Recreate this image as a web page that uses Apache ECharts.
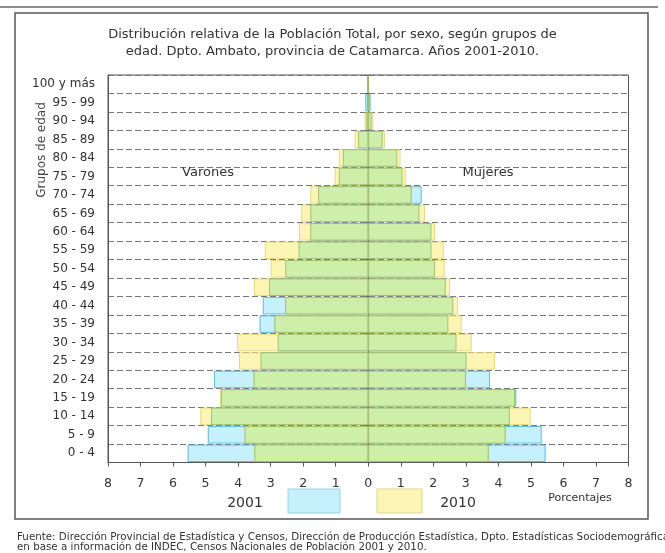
<!DOCTYPE html>
<html>
<head>
<meta charset="utf-8">
<script src="https://cdn.jsdelivr.net/npm/echarts@6/dist/echarts.min.js"></script>
<style>
html,body{margin:0;padding:0;background:#fff;}
#chart{width:665px;height:553px;}
</style>
</head>
<body>
<div id="chart"></div>
<script>
// Age groups, bottom to top
var categories = ['0 - 4','5 - 9','10 - 14','15 - 19','20 - 24','25 - 29','30 - 34','35 - 39','40 - 44','45 - 49','50 - 54','55 - 59','60 - 64','65 - 69','70 - 74','75 - 79','80 - 84','85 - 89','90 - 94','95 - 99','100 y más'];
// Percent of total population
var varones2001 = [5.55, 4.93, 4.83, 4.52, 4.74, 3.31, 2.78, 3.34, 3.24, 3.05, 2.55, 2.14, 1.78, 1.78, 1.54, 0.90, 0.78, 0.31, 0.06, 0.09, 0.01];
var varones2010 = [3.50, 3.80, 5.16, 4.55, 3.52, 3.97, 4.03, 2.88, 2.55, 3.51, 3.00, 3.18, 2.13, 2.06, 1.78, 1.03, 0.90, 0.42, 0.11, 0.03, 0.01];
var mujeres2001 = [5.45, 5.33, 4.35, 4.55, 3.74, 3.02, 2.71, 2.46, 2.61, 2.38, 2.05, 1.94, 1.94, 1.57, 1.64, 1.05, 0.89, 0.44, 0.10, 0.07, 0.01];
var mujeres2010 = [3.70, 4.22, 4.99, 4.51, 3.00, 3.89, 3.18, 2.87, 2.76, 2.51, 2.35, 2.32, 2.05, 1.74, 1.33, 1.15, 0.99, 0.51, 0.15, 0.04, 0.01];
var xTicks = [-8, -7, -6, -5, -4, -3, -2, -1, 0, 1, 2, 3, 4, 5, 6, 7, 8];

var BLUE = '#c6f1fc', YELLOW = '#fcf5b3', GREEN = '#cdefa9';
var FONT = 'DejaVu Sans';

function neg(a){ return a.map(function(v){ return -v; }); }
function minOf(a, b){ return a.map(function(v, i){ return Math.min(v, b[i]); }); }

function bar(name, data, color, border){
  return {
    name: name, type: 'bar', data: data,
    barGap: '-100%', barCategoryGap: '6%',
    itemStyle: { color: color, borderColor: border, borderWidth: 0.8 },
    silent: true, animation: false
  };
}

var chart = echarts.init(document.getElementById('chart'), null, {renderer: 'canvas'});
chart.setOption({
  animation: false,
  backgroundColor: '#fff',
  textStyle: { fontFamily: FONT },
  title: {
    text: 'Distribución relativa de la Población Total, por sexo, según grupos de\nedad. Dpto. Ambato, provincia de Catamarca. Años 2001-2010.',
    left: 'center', top: 21,
    textStyle: { fontFamily: FONT, fontSize: 13, fontWeight: 'normal', color: '#333', lineHeight: 17, align: 'center' }
  },
  grid: { left: 108, right: 36.5, top: 75, bottom: 90.5, show: true, borderColor: '#555', borderWidth: 1 },
  xAxis: {
    type: 'value', min: xTicks[0], max: xTicks[xTicks.length - 1], interval: 1,
    axisLine: { show: true, onZero: false, lineStyle: { color: '#555' } },
    axisTick: { show: true, length: 4, lineStyle: { color: '#555' } },
    splitLine: { show: false },
    axisLabel: { margin: 15, fontFamily: FONT, fontSize: 12.5, color: '#333', formatter: function(v){ return Math.abs(v); } }
  },
  yAxis: [{
    type: 'category', data: categories,
    axisLine: { show: true, onZero: false, lineStyle: { color: '#555' } },
    axisTick: { show: false },
    axisLabel: { margin: 13, fontFamily: FONT, fontSize: 12, color: '#333', interval: 0 },
    splitLine: { show: true, interval: 0, lineStyle: { color: '#777', type: [6, 3], width: 1 } }
  }, {
    type: 'category', data: categories, position: 'left', offset: -260.5,
    axisLine: { show: true, onZero: false, lineStyle: { color: '#555' } },
    axisTick: { show: true, length: 3, interval: 0, lineStyle: { color: '#555' } },
    axisLabel: { show: false },
    splitLine: { show: false }
  }],
  series: [
    bar('Varones 2001', neg(varones2001), BLUE, '#4aa6d6'),
    bar('Varones 2010', neg(varones2010), YELLOW, '#e3cf74'),
    bar('Varones común', neg(minOf(varones2001, varones2010)), GREEN, '#93b56a'),
    bar('Mujeres 2001', mujeres2001, BLUE, '#4aa6d6'),
    bar('Mujeres 2010', mujeres2010, YELLOW, '#e3cf74'),
    bar('Mujeres común', minOf(mujeres2001, mujeres2010), GREEN, '#93b56a')
  ],
  graphic: [
    { type: 'line', shape: { x1: 0, y1: 7, x2: 658, y2: 7 }, style: { stroke: '#666', lineWidth: 1.5 }, silent: true },
    { type: 'rect', shape: { x: 15, y: 13, width: 633, height: 506 }, style: { fill: null, stroke: '#555', lineWidth: 1.5 }, silent: true, z: -1 },
    { type: 'text', x: 42, y: 150, rotation: Math.PI / 2,
      style: { text: 'Grupos de edad', fontFamily: FONT, fontSize: 12, fill: '#444', align: 'center', verticalAlign: 'middle' } },
    { type: 'text', x: 208, y: 173, style: { text: 'Varones', fontFamily: FONT, fontSize: 13, fill: '#333', align: 'center', verticalAlign: 'middle' }, z: 10 },
    { type: 'text', x: 488, y: 173, style: { text: 'Mujeres', fontFamily: FONT, fontSize: 13, fill: '#333', align: 'center', verticalAlign: 'middle' }, z: 10 },
    { type: 'text', x: 245, y: 503, style: { text: '2001', fontFamily: FONT, fontSize: 14, fill: '#333', align: 'center', verticalAlign: 'middle' } },
    { type: 'rect', shape: { x: 288, y: 489, width: 52, height: 24 }, style: { fill: BLUE, stroke: '#9ccfe0', lineWidth: 1 } },
    { type: 'rect', shape: { x: 377, y: 489, width: 45, height: 24 }, style: { fill: YELLOW, stroke: '#ddd39a', lineWidth: 1 } },
    { type: 'text', x: 458, y: 503, style: { text: '2010', fontFamily: FONT, fontSize: 14, fill: '#333', align: 'center', verticalAlign: 'middle' } },
    { type: 'text', x: 580, y: 498, style: { text: 'Porcentajes', fontFamily: FONT, fontSize: 11, fill: '#333', align: 'center', verticalAlign: 'middle' } },
    { type: 'text', x: 17, y: 537, style: { text: 'Fuente: Dirección Provincial de Estadística y Censos, Dirección de Producción Estadística, Dpto. Estadísticas Sociodemográficas', fontFamily: FONT, fontSize: 10.3, fill: '#333', align: 'left', verticalAlign: 'middle' } },
    { type: 'text', x: 17, y: 547, style: { text: 'en base a información de INDEC, Censos Nacionales de Población 2001 y 2010.', fontFamily: FONT, fontSize: 10.3, fill: '#333', align: 'left', verticalAlign: 'middle' } }
  ]
});
</script>
</body>
</html>
